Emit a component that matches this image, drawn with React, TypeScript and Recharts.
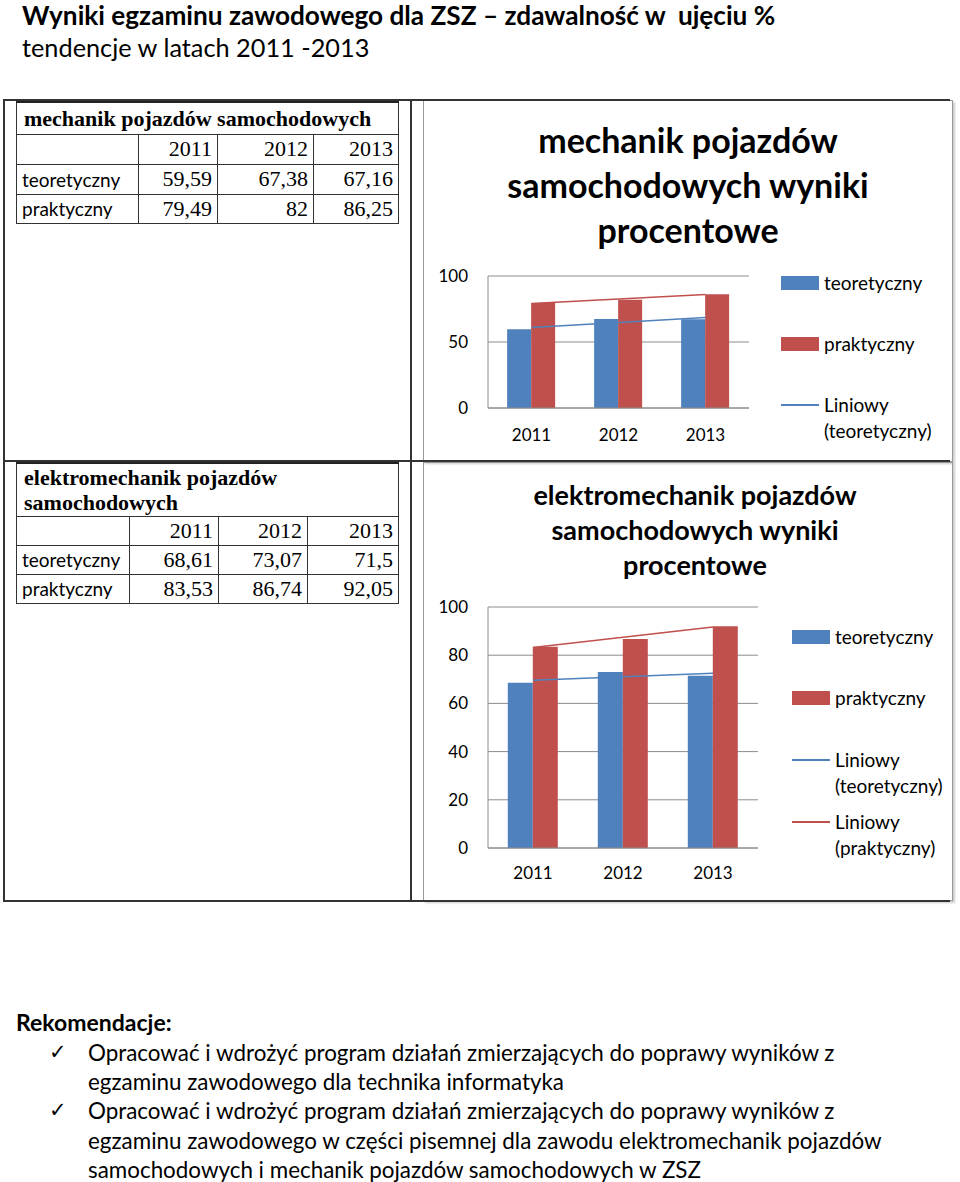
import React from 'react';
import { ComposedChart, Bar, Line, XAxis, YAxis, CartesianGrid, Legend } from 'recharts';

const years = ['2011', '2012', '2013'];
const mechTheory = [59.59, 67.38, 67.16];
const mechPractice = [79.49, 82, 86.25];
const mechTheoryTrend = [60.9, 64.7, 68.5];
const mechPracticeTrend = [79.2, 82.6, 86.0];
const elTheory = [68.61, 73.07, 71.5];
const elPractice = [83.53, 86.74, 92.05];
const elTheoryTrend = [69.6, 71.1, 72.5];
const elPracticeTrend = [83.2, 87.4, 91.7];
const mechTicks = [0, 50, 100];
const elTicks = [0, 20, 40, 60, 80, 100];

const BLUE = '#4F81BD';
const RED = '#C0504D';
const GRID = '#8C8C8C';
const SANS = 'Lato, "Noto Sans", sans-serif';
const SERIF = '"Liberation Serif", "Times New Roman", serif';

const fmt = (v: number) => String(v).replace('.', ',');

function buildRows(t: number[], p: number[], tt: number[], pt: number[]) {
  return years.map((y, i) => ({ year: y, teoretyczny: t[i], praktyczny: p[i], trendT: tt[i], trendP: pt[i] }));
}

type LegendItem = { kind: 'rect' | 'line'; color: string; lines: string[]; y: number };

function makeLegend(items: LegendItem[], x: number, fontSize: number) {
  return () => (
    <div style={{ position: 'relative', width: 0, height: 0 }}>
      {items.map((it, i) => (
        <div key={i}>
          {it.kind === 'rect' ? (
            <div style={{ position: 'absolute', left: x, top: it.y - 7, width: 38, height: 14, background: it.color }} />
          ) : (
            <div style={{ position: 'absolute', left: x, top: it.y - 1, width: 38, height: 2, background: it.color }} />
          )}
          {it.lines.map((l, j) => (
            <div
              key={j}
              style={{
                position: 'absolute',
                left: x + 43,
                top: it.y - 13 + j * 26,
                height: 26,
                lineHeight: '26px',
                fontSize,
                fontFamily: SANS,
                color: '#000',
                whiteSpace: 'nowrap',
              }}
            >
              {l}
            </div>
          ))}
        </div>
      ))}
    </div>
  );
}

type PanelProps = {
  data: any[];
  ticks: number[];
  width: number;
  height: number;
  margin: { top: number; right: number; left: number; bottom: number };
  xAxisHeight: number;
  xTickOffset: number;
  legendItems: LegendItem[];
  legendX: number;
  showPracticeTrend: boolean;
};

function Panel(p: PanelProps) {
  const tickStyle = { fontSize: 17, fontFamily: SANS, fill: '#000' };
  return (
    <ComposedChart width={p.width} height={p.height} data={p.data} margin={p.margin} barGap={0} barCategoryGap="22%">
      <CartesianGrid vertical={false} stroke={GRID} strokeWidth={1} />
      <XAxis
        dataKey="year"
        height={p.xAxisHeight}
        axisLine={{ stroke: GRID }}
        tickLine={false}
        tickSize={p.xTickOffset}
        tickMargin={0}
        tick={tickStyle}
      />
      <YAxis
        width={65}
        domain={[0, 100]}
        ticks={p.ticks}
        interval={0}
        axisLine={{ stroke: GRID }}
        tickLine={false}
        tickSize={10}
        tickMargin={10}
        tick={tickStyle}
      />
      <Bar dataKey="teoretyczny" fill={BLUE} isAnimationActive={false} />
      <Bar dataKey="praktyczny" fill={RED} isAnimationActive={false} />
      <Line dataKey="trendT" stroke={BLUE} strokeWidth={1.5} dot={false} isAnimationActive={false} legendType="none" />
      {p.showPracticeTrend ? (
        <Line dataKey="trendP" stroke={RED} strokeWidth={1.5} dot={false} isAnimationActive={false} legendType="none" />
      ) : null}
      <Legend
        content={makeLegend(p.legendItems, p.legendX, 19)}
        wrapperStyle={{ position: 'absolute', left: 0, top: 0, width: 0, height: 0, overflow: 'visible' }}
      />
    </ComposedChart>
  );
}

const abs = (left: number, top: number, extra: React.CSSProperties = {}): React.CSSProperties => ({
  position: 'absolute',
  left,
  top,
  whiteSpace: 'nowrap',
  ...extra,
});

function HLine({ x1, x2, y, w = 2, c = '#333' }: { x1: number; x2: number; y: number; w?: number; c?: string }) {
  return <div style={{ position: 'absolute', left: x1, top: y - w / 2, width: x2 - x1, height: w, background: c }} />;
}
function VLine({ y1, y2, x, w = 2, c = '#333' }: { y1: number; y2: number; x: number; w?: number; c?: string }) {
  return <div style={{ position: 'absolute', left: x - w / 2, top: y1, width: w, height: y2 - y1, background: c }} />;
}

function DataTable({
  left, top, title, colWidths, rowHeights, theory, practice,
}: {
  left: number; top: number; title: React.ReactNode; colWidths: number[]; rowHeights: number[];
  theory: number[]; practice: number[];
}) {
  const cell: React.CSSProperties = { border: '1px solid #333', padding: '0 5px', boxSizing: 'border-box' };
  const num: React.CSSProperties = { ...cell, textAlign: 'right', fontFamily: SERIF, fontSize: 22 };
  const lab: React.CSSProperties = { ...cell, textAlign: 'left', fontFamily: SANS, fontSize: 19 };
  return (
    <table
      style={{
        position: 'absolute', left, top, borderCollapse: 'collapse', tableLayout: 'fixed',
        width: colWidths.reduce((a, b) => a + b, 0), color: '#000',
      }}
    >
      <colgroup>
        {colWidths.map((w, i) => <col key={i} style={{ width: w }} />)}
      </colgroup>
      <tbody>
        <tr style={{ height: rowHeights[0] }}>
          <td colSpan={4} style={{ ...cell, paddingLeft: 7, fontFamily: SERIF, fontWeight: 'bold', fontSize: 22, lineHeight: '25px', borderTop: '2px solid #222' }}>
            {title}
          </td>
        </tr>
        <tr style={{ height: rowHeights[1] }}>
          <td style={lab}></td>
          {years.map((y) => <td key={y} style={num}>{y}</td>)}
        </tr>
        <tr style={{ height: rowHeights[2] }}>
          <td style={lab}>teoretyczny</td>
          {theory.map((v, i) => <td key={i} style={num}>{fmt(v)}</td>)}
        </tr>
        <tr style={{ height: rowHeights[3] }}>
          <td style={lab}>praktyczny</td>
          {practice.map((v, i) => <td key={i} style={num}>{fmt(v)}</td>)}
        </tr>
      </tbody>
    </table>
  );
}

export default function App() {
  const mechData = buildRows(mechTheory, mechPractice, mechTheoryTrend, mechPracticeTrend);
  const elData = buildRows(elTheory, elPractice, elTheoryTrend, elPracticeTrend);
  const recLine: React.CSSProperties = { fontFamily: SANS, fontSize: 22.4, lineHeight: '29px', height: 29, color: '#000' };
  const check: React.CSSProperties = { fontFamily: '"DejaVu Sans", sans-serif', fontSize: 21, lineHeight: '29px', height: 29, color: '#000' };
  return (
    <div style={{ position: 'absolute', left: 0, top: 0, width: 960, height: 1182, background: '#fff', fontFamily: SANS, color: '#000', overflow: 'hidden' }}>
      <div style={abs(22, 0, { fontSize: 26.2, fontWeight: 'bold', lineHeight: '30px' })}>
        Wyniki egzaminu zawodowego dla ZSZ – zdawalność w&nbsp; ujęciu %
      </div>
      <div style={abs(22, 32, { fontSize: 25.3, lineHeight: '30px' })}>tendencje w latach 2011 -2013</div>

      {/* chart frames */}
      <div style={{ position: 'absolute', left: 423, top: 100, width: 530, height: 362, border: '1px solid #9a9a9a', boxSizing: 'border-box', boxShadow: '2px 2px 2px #ccc' }} />
      <div style={{ position: 'absolute', left: 423, top: 462, width: 530, height: 439, border: '1px solid #9a9a9a', boxSizing: 'border-box', boxShadow: '2px 2px 2px #ccc' }} />

      {/* outer layout lines */}
      <HLine x1={3} x2={950} y={100} />
      <HLine x1={3} x2={950} y={461} />
      <HLine x1={3} x2={950} y={901} />
      <VLine x={4} y1={99} y2={902} />
      <VLine x={411} y1={99} y2={902} />

      <DataTable
        left={16} top={101}
        title="mechanik pojazdów samochodowych"
        colWidths={[122, 79, 96, 85]} rowHeights={[32, 30, 30, 29]}
        theory={mechTheory} practice={mechPractice}
      />
      <DataTable
        left={16} top={462}
        title={<>elektromechanik pojazdów<br />samochodowych</>}
        colWidths={[113, 89, 89, 91]} rowHeights={[53, 29, 29, 29]}
        theory={elTheory} practice={elPractice}
      />

      {/* chart 1 */}
      <div style={{ position: 'absolute', left: 423, top: 117, width: 530, textAlign: 'center', fontSize: 34, fontWeight: 'bold', lineHeight: '45px' }}>
        mechanik pojazdów<br />samochodowych wyniki<br />procentowe
      </div>
      <div style={{ position: 'absolute', left: 423, top: 250 }}>
        <Panel
          data={mechData} ticks={mechTicks} width={530} height={200}
          margin={{ top: 26, right: 204, left: 0, bottom: 7 }} xAxisHeight={35} xTickOffset={21}
          legendX={358}
          legendItems={[
            { kind: 'rect', color: BLUE, lines: ['teoretyczny'], y: 33 },
            { kind: 'rect', color: RED, lines: ['praktyczny'], y: 94 },
            { kind: 'line', color: BLUE, lines: ['Liniowy', '(teoretyczny)'], y: 155 },
          ]}
          showPracticeTrend={true}
        />
      </div>

      {/* chart 2 */}
      <div style={{ position: 'absolute', left: 430, top: 477, width: 530, textAlign: 'center', fontSize: 27, fontWeight: 'bold', lineHeight: '35px' }}>
        elektromechanik pojazdów<br />samochodowych wyniki<br />procentowe
      </div>
      <div style={{ position: 'absolute', left: 423, top: 585 }}>
        <Panel
          data={elData} ticks={elTicks} width={530} height={310}
          margin={{ top: 22, right: 195, left: 0, bottom: 7 }} xAxisHeight={40} xTickOffset={19}
          legendX={369}
          legendItems={[
            { kind: 'rect', color: BLUE, lines: ['teoretyczny'], y: 52 },
            { kind: 'rect', color: RED, lines: ['praktyczny'], y: 113 },
            { kind: 'line', color: BLUE, lines: ['Liniowy', '(teoretyczny)'], y: 175 },
            { kind: 'line', color: RED, lines: ['Liniowy', '(praktyczny)'], y: 237 },
          ]}
          showPracticeTrend={true}
        />
      </div>

      {/* recommendations */}
      <div style={abs(16, 1008, { fontSize: 23, fontWeight: 'bold', lineHeight: '28px' })}>Rekomendacje:</div>
      <div style={abs(49, 1038, check)}>✓</div>
      <div style={abs(49, 1096, check)}>✓</div>
      <div style={abs(88, 1038, recLine)}>Opracować i wdrożyć program działań zmierzających do poprawy wyników z</div>
      <div style={abs(88, 1067, recLine)}>egzaminu zawodowego dla technika informatyka</div>
      <div style={abs(88, 1096, recLine)}>Opracować i wdrożyć program działań zmierzających do poprawy wyników z</div>
      <div style={abs(88, 1126, recLine)}>egzaminu zawodowego w części pisemnej dla zawodu elektromechanik pojazdów</div>
      <div style={abs(88, 1155, recLine)}>samochodowych i mechanik pojazdów samochodowych w ZSZ</div>
    </div>
  );
}
